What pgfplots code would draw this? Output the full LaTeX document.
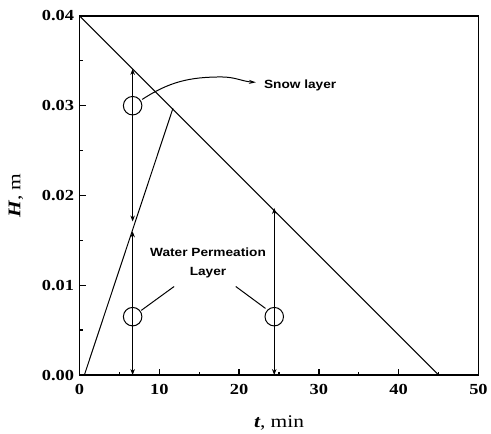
\documentclass[border=0pt]{standalone}
\usepackage{pgfplots}
\pgfplotsset{compat=1.18}
\usepackage{fontspec}
\setmainfont[FakeStretch=1.2]{Liberation Serif}
\newfontfamily\annot[FakeStretch=1.15]{Liberation Sans}
\usetikzlibrary{arrows.meta}
\begin{document}
\begin{tikzpicture}
\begin{axis}[
  name=ax,
  scale only axis,
  width=401bp, height=361bp,
  xmin=0, xmax=50, ymin=0, ymax=0.04,
  xtick={0,10,...,50},
  ytick={0,0.01,0.02,0.03,0.04},
  minor x tick num=1, minor y tick num=1,
  tick align=inside, tick pos=left,
  major tick length=6bp, minor tick length=3.5bp,
  axis line style={line width=1.8bp},
  every tick/.style={line width=1.3bp, black},
  scaled y ticks=false,
  /pgf/number format/assume math mode=true,
  yticklabel style={/pgf/number format/.cd, fixed, fixed zerofill, precision=2},
  ticklabel style={font=\bfseries\fontsize{15.5}{17}\selectfont},
  xticklabel shift=6bp,
  yticklabel shift=2bp,
  xlabel={{\bfseries\itshape t}, min},
  ylabel={{\bfseries\itshape H}, m},
  xlabel shift=14bp,
  ylabel shift=12bp,
  label style={font=\fontsize{18}{20}\selectfont},
  clip=false,
]
% snow layer surface
\addplot[black, line width=1bp] coordinates {(0,0.04) (45,0)};
% water permeation front
\addplot[black, line width=1bp] coordinates {(0.6,0) (11.7,0.0297)};
% vertical double arrows
\addplot[black, line width=0.8bp, {Stealth[length=6bp,width=4.5bp]}-{Stealth[length=6bp,width=4.5bp]}] coordinates {(6.65,0) (6.65,0.0160)};
\addplot[black, line width=0.8bp, {Stealth[length=6bp,width=4.5bp]}-{Stealth[length=6bp,width=4.5bp]}] coordinates {(6.65,0.0171) (6.65,0.0341)};
\addplot[black, line width=0.8bp, {Stealth[length=6bp,width=4.5bp]}-{Stealth[length=6bp,width=4.5bp]}] coordinates {(24.4,0) (24.4,0.0186)};
% circles
\addplot[black, only marks, mark=o, mark size=9.3bp, mark options={line width=1bp}] coordinates {(6.65,0.0300) (6.65,0.0065) (24.4,0.0065)};
% annotations
\draw[line width=1bp, -{Stealth[length=7bp,width=4bp]}] (axis cs:7.85,0.0307) to[out=33,in=180] (axis cs:17.8,0.0332) to[out=0,in=176] (axis cs:22.1,0.0326);
\node[anchor=west, inner sep=0pt, font=\annot\bfseries\fontsize{12}{14}\selectfont] at (axis cs:23.1,0.0323) {Snow layer};
\draw[line width=1bp] (axis cs:7.73,0.0072) -- (axis cs:11.85,0.00986);
\draw[line width=1bp] (axis cs:19.58,0.00986) -- (axis cs:23.3,0.00742);
\node[align=center, inner sep=0pt, font=\annot\bfseries\fontsize{12}{19}\selectfont] at (axis cs:16.1,0.0125) {Water Permeation\\Layer};
\end{axis}
\path ([xshift=-80bp,yshift=-52bp]ax.south west) rectangle ([xshift=10bp,yshift=16bp]ax.north east);
\end{tikzpicture}
\end{document}
